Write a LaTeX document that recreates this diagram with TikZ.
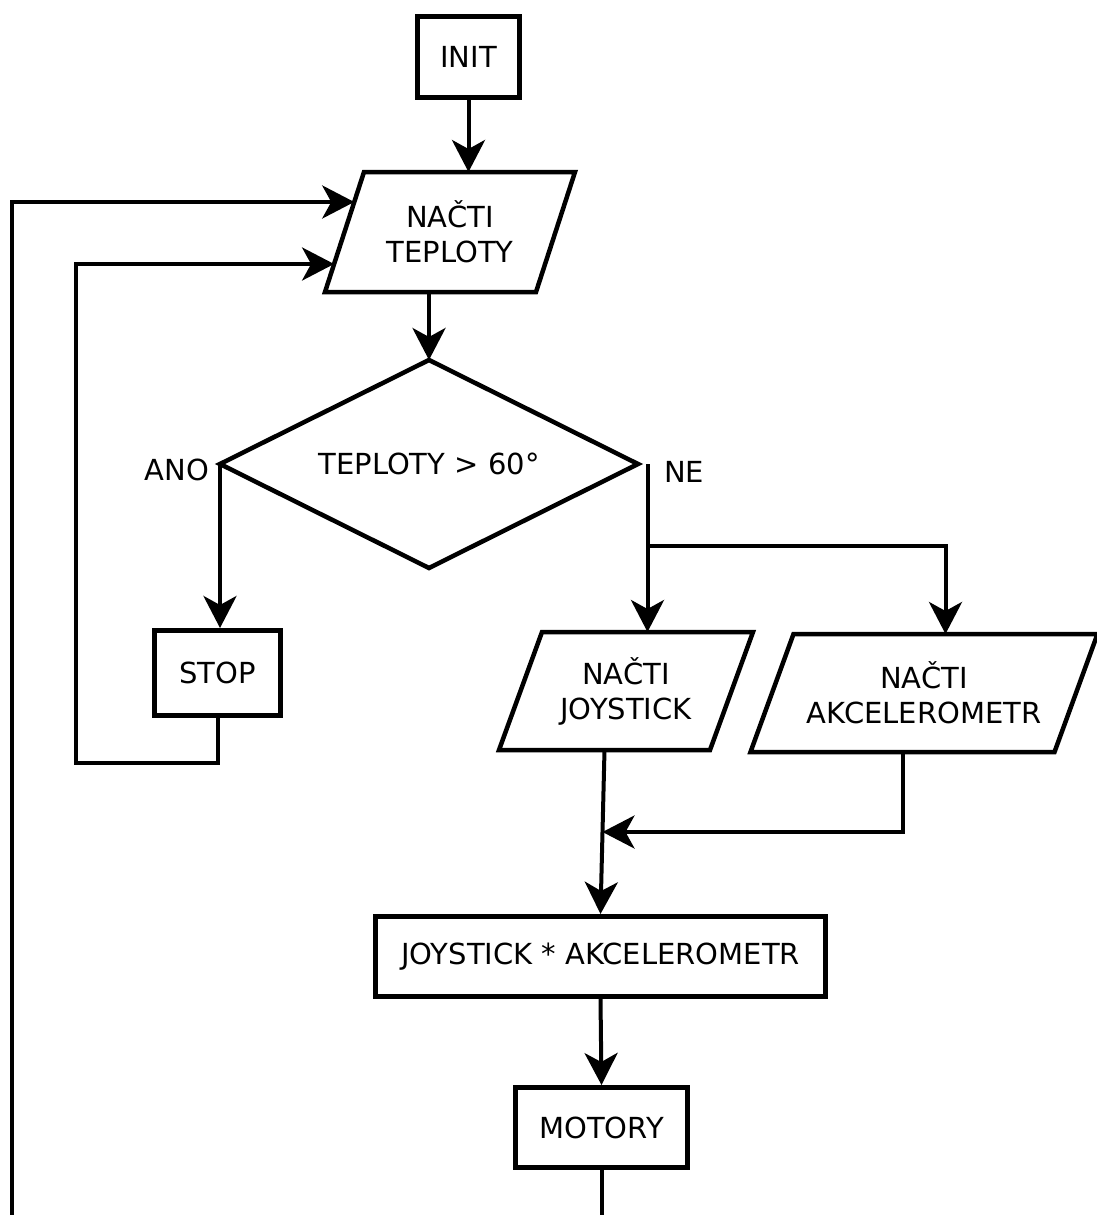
\documentclass[tikz,border=0pt]{standalone}
\usepackage{fontspec}
\setmainfont{DejaVu Sans}
\usetikzlibrary{arrows.meta,calc}
\begin{document}
\begin{tikzpicture}[x=1pt,y=-1pt,
  every node/.style={font=\fontsize{29}{35}\selectfont},
  box/.style={draw,line width=5pt,inner sep=0pt,align=center},
  ghost/.style={inner sep=0pt,outer sep=0pt,align=center},
  outline/.style={line width=4.5pt,line join=miter},
  arr/.style={line width=4pt,-{Stealth[length=32pt,width=33pt,inset=9pt]}},
  wire/.style={line width=4pt}]
\useasboundingbox (0,0) rectangle (1096,1215);

% nodes
\node[box,minimum width=102pt,minimum height=81pt] (init) at (468.5,57) {INIT};

\node[ghost,minimum width=250pt,minimum height=120pt] (tep) at (450,232) {NAČTI\\TEPLOTY};
\draw[outline] ([xshift=39pt]tep.north west) -- (tep.north east) -- ([xshift=-39pt]tep.south east) -- (tep.south west) -- cycle;

\node[ghost,minimum width=418pt,minimum height=208pt] (dec) at (429,464) {TEPLOTY > 60°};
\draw[outline] (dec.north) -- (dec.east) -- (dec.south) -- (dec.west) -- cycle;

\node (ano) at (177,470) {ANO};
\node (ne) at (684,472) {NE};

\node[box,minimum width=126pt,minimum height=85pt] (stop) at (217.5,673) {STOP};

\node[ghost,minimum width=254pt,minimum height=118pt] (joy) at (626,691) {NAČTI\\JOYSTICK};
\draw[outline] ([xshift=43pt]joy.north west) -- (joy.north east) -- ([xshift=-43pt]joy.south east) -- (joy.south west) -- cycle;

\node[ghost,minimum width=347pt,minimum height=118pt] (ak) at (924,693) {NAČTI\\AKCELEROMETR};
\draw[outline] ([xshift=43pt]ak.north west) -- (ak.north east) -- ([xshift=-43pt]ak.south east) -- (ak.south west) -- cycle;

\node[box,minimum width=450pt,minimum height=80pt] (prod) at (600.5,956.5) {JOYSTICK * AKCELEROMETR};
\node[box,minimum width=172pt,minimum height=80pt] (mot) at (601.5,1127.5) {MOTORY};

% helper coordinates
\coordinate (jt) at ([xshift=21.5pt]joy.north);
\coordinate (jb) at ([xshift=-21.5pt]joy.south);
\coordinate (at) at ([xshift=21.5pt]ak.north);
\coordinate (ab) at ([xshift=-21.5pt]ak.south);
\coordinate (l2) at ($(tep.south west)!0.75!([xshift=39pt]tep.north west)$);
\coordinate (l1) at ($(tep.south west)!0.2333!([xshift=39pt]tep.north west)$);
\coordinate (br) at (jt |- 0,546);
\coordinate (mrg) at ($(jb)!0.5!(prod.north)$);
\coordinate (mend) at (mot.south |- 0,1219);
\coordinate (c1) at (76,763);
\coordinate (c2) at (12,1219);

% connectors
\draw[arr] (init.south) -- (init.south |- tep.north);
\draw[arr] (dec.north |- tep.south) -- (dec.north);
\draw[arr] (dec.west) -- (dec.west |- stop.north);
\draw[arr] (dec.east -| jt) -- (jt);
\draw[arr] (br) -| (at);
\draw[arr] (jb) -- (prod.north);
\draw[arr] (ab) |- (mrg);
\draw[arr] (prod.south) -- (mot.north);
\draw[wire] (mot.south) -- (mend);
\draw[arr] (stop.south) |- (c1) |- (l1);
\draw[arr] (c2) |- (l2);
\end{tikzpicture}
\end{document}
